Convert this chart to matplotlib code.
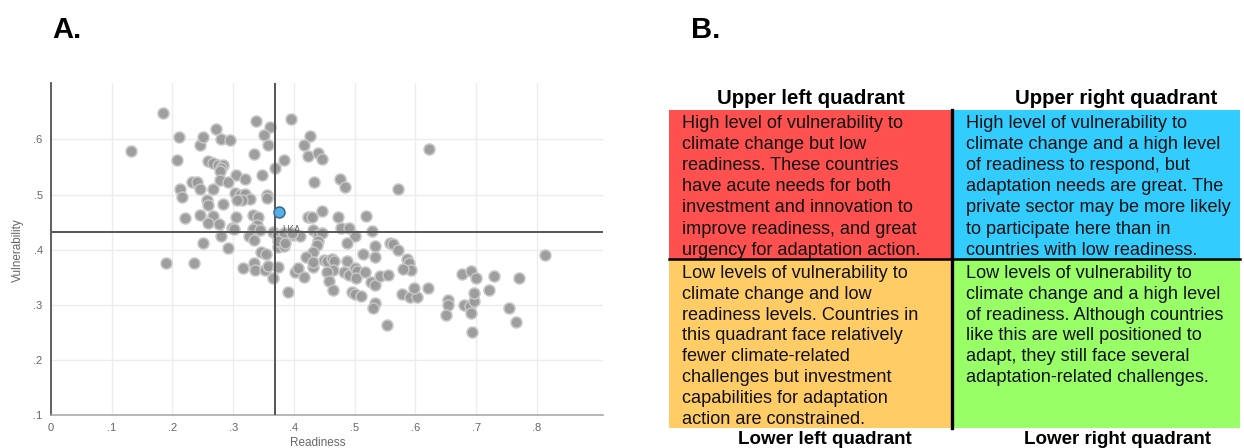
import matplotlib
matplotlib.use("Agg")
import matplotlib.pyplot as plt
from matplotlib.patches import Rectangle
from matplotlib.ticker import FuncFormatter

plt.rcParams['font.family'] = ['Liberation Sans', 'DejaVu Sans']

# ---- panel A data (readiness vs vulnerability) ----
readiness = [
    .131, .184, .210, .207, .245, .251, .272, .280, .294, .338, .361, .351, .357, .334, .383,
    .369, .395, .259, .267, .275, .283, .280, .278, .305, .320, .278, .292, .347, .232, .240,
    .245, .213, .215, .266, .303, .311, .320, .328, .314, .306, .355, .355, .257, .259, .284,
    .221, .245, .267, .276, .259, .305, .333, .341, .339, .333, .344, .298, .302, .427, .416,
    .424, .440, .447, .433, .476, .484, .572, .622, .447, .424, .429, .472, .518, .477, .491,
    .528, .432, .189, .236, .251, .280, .292, .326, .334, .365, .345, .354, .374, .384, .316,
    .334, .336, .353, .358, .373, .365, .390, .402, .407, .399, .372, .383, .374, .386, .410,
    .397, .440, .446, .440, .438, .500, .488, .534, .558, .564, .571, .514, .533, .432, .420,
    .416, .432, .432, .449, .454, .462, .466, .465, .454, .458, .464, .487, .483, .490, .501,
    .504, .502, .517, .496, .501, .511, .527, .534, .542, .555, .533, .531, .553, .586, .590,
    .593, .579, .578, .591, .602, .598, .621, .654, .653, .650, .677, .691, .700, .680, .690,
    .691, .697, .697, .694, .722, .730, .755, .765, .770, .813,
]
vulnerability = [
    .580, .648, .605, .563, .590, .605, .619, .601, .599, .634, .623, .608, .590, .574, .562,
    .548, .638, .561, .557, .554, .554, .548, .543, .536, .528, .526, .523, .536, .522, .523,
    .511, .511, .496, .511, .503, .499, .501, .492, .490, .490, .499, .494, .490, .481, .483,
    .457, .463, .461, .447, .449, .460, .463, .460, .445, .438, .436, .439, .437, .606, .590,
    .570, .575, .565, .522, .528, .514, .510, .582, .471, .459, .460, .459, .462, .439, .439,
    .434, .436, .375, .375, .412, .424, .403, .425, .418, .433, .396, .392, .404, .407, .366,
    .375, .364, .364, .370, .369, .348, .324, .360, .366, .427, .427, .430, .415, .412, .424,
    .430, .427, .430, .415, .409, .424, .413, .407, .413, .410, .399, .393, .387, .395, .387,
    .350, .369, .378, .381, .380, .383, .380, .364, .360, .344, .326, .380, .360, .354, .366,
    .362, .348, .360, .324, .319, .316, .342, .336, .352, .354, .303, .294, .263, .384, .376,
    .363, .365, .320, .315, .315, .330, .330, .309, .300, .281, .356, .362, .348, .300, .298,
    .285, .306, .322, .251, .326, .352, .295, .269, .349, .390,
]
highlight_name = "LKA"
highlight_xy = (.376, .468)
median_readiness = .369
median_vulnerability = .433

x_ticks = [0, .1, .2, .3, .4, .5, .6, .7, .8]
y_ticks = [.1, .2, .3, .4, .5, .6]

# ---- panel B text ----
quadrant_titles = ["Upper left quadrant", "Upper right quadrant",
                   "Lower left quadrant", "Lower right quadrant"]
quadrant_colors = ["#ff5050", "#33ccff", "#ffcc66", "#99ff66"]
quadrant_lines = [
    ["High level of vulnerability to", "climate change but low",
     "readiness. These countries", "have acute needs for both",
     "investment and innovation to", "improve readiness, and great",
     "urgency for adaptation action."],
    ["High level of vulnerability to", "climate change and a high level",
     "of readiness to respond, but", "adaptation needs are great. The",
     "private sector may be more likely", "to participate here than in",
     "countries with low readiness."],
    ["Low levels of vulnerability to", "climate change and low",
     "readiness levels. Countries in", "this quadrant face relatively",
     "fewer climate-related", "challenges but investment",
     "capabilities for adaptation", "action are constrained."],
    ["Low levels of vulnerability to", "climate change and a high level",
     "of readiness. Although countries", "like this are well positioned to",
     "adapt, they still face several", "adaptation-related challenges."],
]

W, H = 1244, 448
fig = plt.figure(figsize=(W / 100, H / 100), dpi=100)

# ================= panel A =================
ax = fig.add_axes([51 / W, 33 / H, 552 / W, 332 / H])
ax.set_xlim(0, 0.909)
ax.set_ylim(0.1, 0.7025)
ax.set_xticks(x_ticks)
ax.set_yticks(y_ticks)
fmt = FuncFormatter(lambda v, p: "0" if abs(v) < 1e-9 else f"{v:.1f}".lstrip("0"))
ax.xaxis.set_major_formatter(fmt)
ax.yaxis.set_major_formatter(fmt)
ax.grid(True, color="#ececec", linewidth=1)
ax.set_axisbelow(True)
for s in ["top", "right"]:
    ax.spines[s].set_visible(False)
ax.spines["left"].set_color("#555555")
ax.spines["left"].set_linewidth(1.3)
ax.spines["bottom"].set_color("#aaaaaa")
ax.spines["bottom"].set_linewidth(1.2)
ax.tick_params(length=0, labelsize=8, colors="#666666", pad=6)

ax.scatter(readiness, vulnerability, s=62, color="#999999", edgecolors="#c6c6c6",
           linewidths=1.2, alpha=0.95, zorder=3)
ax.axvline(median_readiness, color="#555555", linewidth=1.4, zorder=4)
ax.axhline(median_vulnerability, color="#555555", linewidth=1.4, zorder=4)
ax.scatter([highlight_xy[0]], [highlight_xy[1]], s=62, color="#5aaee6",
           edgecolors="#3d6f96", linewidths=1.2, zorder=5)
ax.annotate(highlight_name, highlight_xy, xytext=(2, -9), textcoords="offset points",
            fontsize=7, color="#666666", va="top", zorder=5)

ax.set_xlabel("Readiness", fontsize=8.5, color="#666666")
ax.set_ylabel("Vulnerability", fontsize=8.5, color="#666666")
ax.xaxis.set_label_coords(0.484, -0.066)
ax.yaxis.set_label_coords(-0.049, 0.497)

fig.text(52 / W, 1 - 30 / H, "A.", fontsize=21, fontweight="bold", va="center")
fig.text(691 / W, 1 - 30 / H, "B.", fontsize=21, fontweight="bold", va="center")

# ================= panel B =================
bx = fig.add_axes([0, 0, 1, 1])
bx.set_xlim(0, W)
bx.set_ylim(H, 0)
bx.axis("off")

x0, xm, x1 = 669, 951.5, 1240
y0, ym, y1 = 110, 259.5, 428.5
boxes = [(x0, y0, xm - x0, ym - y0), (xm, y0, x1 - xm, ym - y0),
         (x0, ym, xm - x0, y1 - ym), (xm, ym, x1 - xm, y1 - ym)]
for (bx0, by0, bw, bh), c in zip(boxes, quadrant_colors):
    bx.add_patch(Rectangle((bx0, by0), bw, bh, facecolor=c, edgecolor="none"))
bx.plot([xm, xm], [y0, y1], color="black", linewidth=2.4)
bx.plot([x0, x1], [ym, ym], color="black", linewidth=1.8)

text_x = [681.5, 966, 681.5, 966]
text_y0 = [128, 128, 277.8, 277.8]
line_step = [21.1, 21.1, 20.9, 20.9]
for k, lines in enumerate(quadrant_lines):
    for i, line in enumerate(lines):
        bx.text(text_x[k], text_y0[k] + i * line_step[k], line, fontsize=13.1,
                va="baseline", ha="left", color="#111111")

# upper titles centred above boxes, lower titles sit on the bottom edge
for t, tx in zip(quadrant_titles[:2], [811, 1116.5]):
    bx.text(tx, 98, t, fontsize=14.7, fontweight="bold", ha="center", va="center")
for t, tx in zip(quadrant_titles[2:], [825, 1117]):
    bx.text(tx, 444, t, fontsize=13.5, fontweight="bold", ha="center", va="baseline")

fig.savefig("out.png", dpi=100)
